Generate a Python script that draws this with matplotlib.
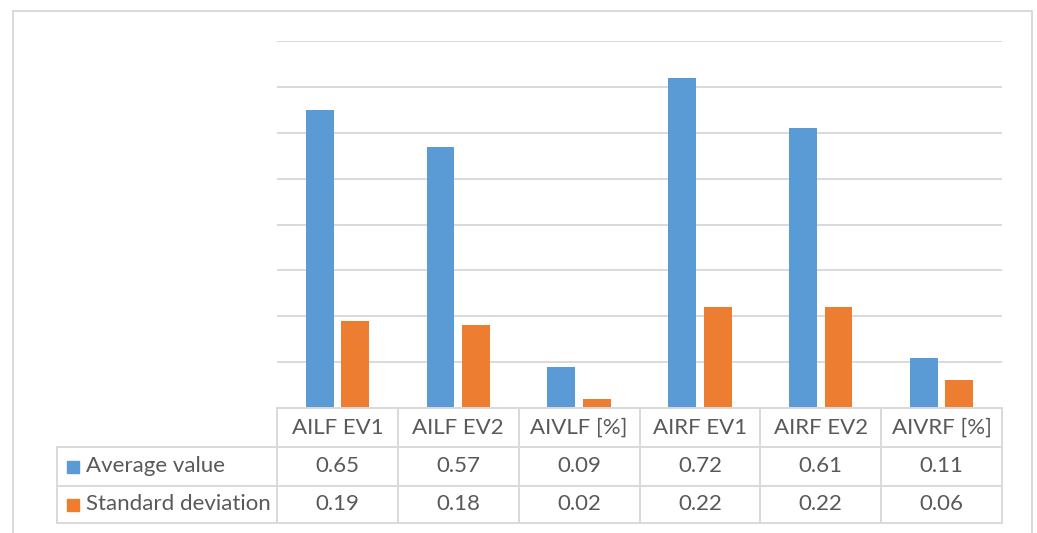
import numpy as np
import matplotlib as mpl
import matplotlib.pyplot as plt
from matplotlib.patches import Rectangle
from matplotlib.lines import Line2D

mpl.rcParams['font.family'] = ['Lato', 'DejaVu Sans']

# ===== data =====
categories = ["AILF EV1", "AILF EV2", "AIVLF [%]", "AIRF EV1", "AIRF EV2", "AIVRF [%]"]
avg_vals = [0.65, 0.57, 0.09, 0.72, 0.61, 0.11]
std_vals = [0.19, 0.18, 0.02, 0.22, 0.22, 0.06]
series_names = ["Average value", "Standard deviation"]

# ===== params =====
W, H = 1037, 533
c_avg = '#5B9BD5'
c_std = '#ED7D31'
c_grid = '#D9D9D9'
c_text = '#595959'
fs = 16

def fx(x):
    return x / W

def fy(y):
    return 1 - y / H

fig = plt.figure(figsize=(W/100, H/100), dpi=100)

# plot area in pixel coords of the reference
left, right, top, base = 277, 1002, 41, 408
ax = fig.add_axes([fx(left), fy(base), fx(right) - fx(left), fy(top) - fy(base)])

x = np.arange(len(categories))
bw = 0.23
off = 0.147
ax.bar(x - off, avg_vals, bw, color=c_avg, zorder=3)
ax.bar(x + off, std_vals, bw, color=c_std, zorder=3)

ax.set_xlim(-0.5, len(categories) - 0.5)
ax.set_ylim(0, 0.8)
ax.set_yticks(np.arange(0, 0.81, 0.1))
ax.grid(axis='y', color=c_grid, lw=1.4, zorder=0)
ax.tick_params(left=False, bottom=False, labelleft=False, labelbottom=False)
for s in ax.spines.values():
    s.set_visible(False)

# ===== outer chart frame =====
fig.patches.append(Rectangle((fx(13), fy(545)), fx(1032) - fx(13), fy(11) - fy(545),
                             transform=fig.transFigure, fill=False,
                             ec=c_grid, lw=1.4))

# ===== data table =====
col_edges = np.linspace(left, right, len(categories) + 1)
row_lines = [408, 447, 486, 523]
tab_left = 57

def hline(y, x0, x1):
    fig.add_artist(Line2D([fx(x0), fx(x1)], [fy(y), fy(y)], color=c_grid, lw=1.4,
                          transform=fig.transFigure))

def vline(xp, y0, y1):
    fig.add_artist(Line2D([fx(xp), fx(xp)], [fy(y0), fy(y1)], color=c_grid, lw=1.4,
                          transform=fig.transFigure))

hline(row_lines[0], left, right)
for y in row_lines[1:]:
    hline(y, tab_left, right)
for xp in col_edges:
    vline(xp, row_lines[0], row_lines[-1])
vline(tab_left, row_lines[1], row_lines[-1])

row_mid = [(row_lines[i] + row_lines[i + 1]) / 2 for i in range(3)]
col_mid = (col_edges[:-1] + col_edges[1:]) / 2

for i, cat in enumerate(categories):
    fig.text(fx(col_mid[i]), fy(row_mid[0]), cat, ha='center', va='center',
             color=c_text, size=fs)
    fig.text(fx(col_mid[i]), fy(row_mid[1]), f"{avg_vals[i]:.2f}", ha='center',
             va='center', color=c_text, size=fs)
    fig.text(fx(col_mid[i]), fy(row_mid[2]), f"{std_vals[i]:.2f}", ha='center',
             va='center', color=c_text, size=fs)

for r, (name, c) in enumerate(zip(series_names, [c_avg, c_std])):
    ym = row_mid[r + 1]
    fig.patches.append(Rectangle((fx(67), fy(ym + 6)), fx(12), 12 / H,
                                 transform=fig.transFigure, color=c))
    fig.text(fx(86), fy(ym), name, ha='left', va='center', color=c_text, size=fs)

plt.savefig('out.png', dpi=100)
